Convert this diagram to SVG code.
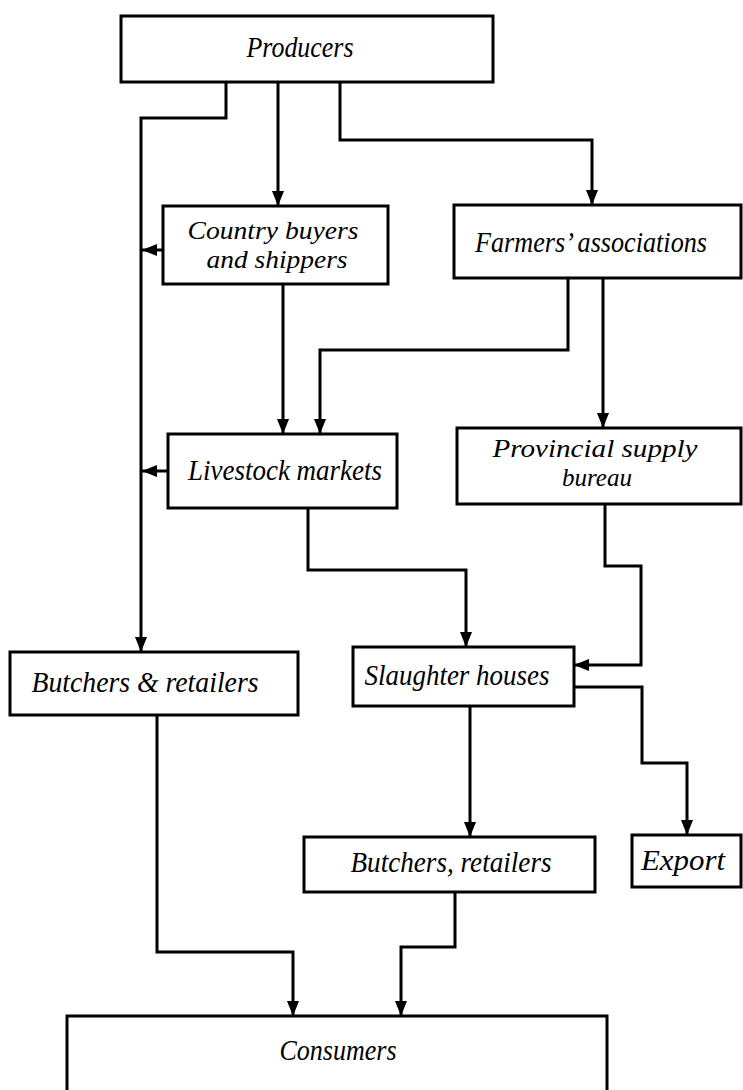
<svg xmlns="http://www.w3.org/2000/svg" width="743" height="1090" viewBox="0 0 743 1090">
  <style>
    .box { fill: #fff; stroke: #000; stroke-width: 3; }
    .lbl { font-family: "Liberation Serif", "Times New Roman", serif; font-style: italic; font-size: 29px; fill: #000; text-anchor: middle; }
    .two { font-size: 26px; }
    .link { fill: none; stroke: #000; stroke-width: 3; stroke-linejoin: miter; marker-end: url(#arrow); }
  </style>
  <defs>
    <marker id="arrow" viewBox="0 0 15 12" refX="15" refY="6" markerWidth="15" markerHeight="12" markerUnits="userSpaceOnUse" orient="auto">
      <path d="M0,0 L15,6 L0,12 Z" fill="#000"/>
    </marker>
  </defs>
  <rect width="743" height="1090" fill="#fff"/>

  <!-- flow lines between the stages -->
  <g id="connectors">
    <path class="link" d="M226 82 V118 H141 V652"/>
    <path class="link" d="M163 250 H142"/>
    <path class="link" d="M168 471 H142"/>
    <path class="link" d="M278 82 V206"/>
    <path class="link" d="M340 81 V140 H592 V205"/>
    <path class="link" d="M283 284 V434"/>
    <path class="link" d="M568 278 V350 H320 V434"/>
    <path class="link" d="M603 278 V428"/>
    <path class="link" d="M308 508 V570 H466 V647"/>
    <path class="link" d="M605 504 V566 H641 V665 H574"/>
    <path class="link" d="M574 687 H642 V763 H687 V835"/>
    <path class="link" d="M470 706 V837"/>
    <path class="link" d="M157 715 V952 H293 V1016"/>
    <path class="link" d="M455 892 V947 H401 V1016"/>
  </g>

  <g id="producers">
    <rect class="box" x="121" y="16" width="372" height="66"/>
    <text class="lbl" x="300" y="57" textLength="107" lengthAdjust="spacingAndGlyphs">Producers</text>
  </g>

  <g id="country-buyers">
    <rect class="box" x="163" y="206" width="225" height="78"/>
    <text class="lbl two" x="273" y="239" textLength="171" lengthAdjust="spacingAndGlyphs">Country buyers</text>
    <text class="lbl two" x="277" y="268" textLength="141" lengthAdjust="spacingAndGlyphs">and shippers</text>
  </g>

  <g id="farmers-associations">
    <rect class="box" x="454" y="205" width="287" height="73"/>
    <text class="lbl" x="591" y="252" textLength="232" lengthAdjust="spacingAndGlyphs">Farmers’ associations</text>
  </g>

  <g id="livestock-markets">
    <rect class="box" x="168" y="434" width="229" height="74"/>
    <text class="lbl" x="285" y="480" textLength="194" lengthAdjust="spacingAndGlyphs">Livestock markets</text>
  </g>

  <g id="provincial-supply-bureau">
    <rect class="box" x="457" y="428" width="284" height="76"/>
    <text class="lbl two" x="595" y="457" textLength="205" lengthAdjust="spacingAndGlyphs">Provincial supply</text>
    <text class="lbl two" x="597" y="486" textLength="70" lengthAdjust="spacingAndGlyphs">bureau</text>
  </g>

  <g id="butchers-and-retailers">
    <rect class="box" x="10" y="652" width="288" height="63"/>
    <text class="lbl" x="145" y="692" textLength="227" lengthAdjust="spacingAndGlyphs">Butchers &amp; retailers</text>
  </g>

  <g id="slaughter-houses">
    <rect class="box" x="353" y="647" width="221" height="59"/>
    <text class="lbl" x="457" y="685" textLength="185" lengthAdjust="spacingAndGlyphs">Slaughter houses</text>
  </g>

  <g id="butchers-retailers">
    <rect class="box" x="304" y="837" width="291" height="55"/>
    <text class="lbl" x="451" y="872" textLength="201" lengthAdjust="spacingAndGlyphs">Butchers, retailers</text>
  </g>

  <g id="export">
    <rect class="box" x="632" y="835" width="109" height="52"/>
    <text class="lbl" x="683" y="870" textLength="84" lengthAdjust="spacingAndGlyphs">Export</text>
  </g>

  <g id="consumers">
    <rect class="box" x="67" y="1016" width="540" height="90"/>
    <text class="lbl" x="338" y="1060" textLength="117" lengthAdjust="spacingAndGlyphs">Consumers</text>
  </g>
</svg>
